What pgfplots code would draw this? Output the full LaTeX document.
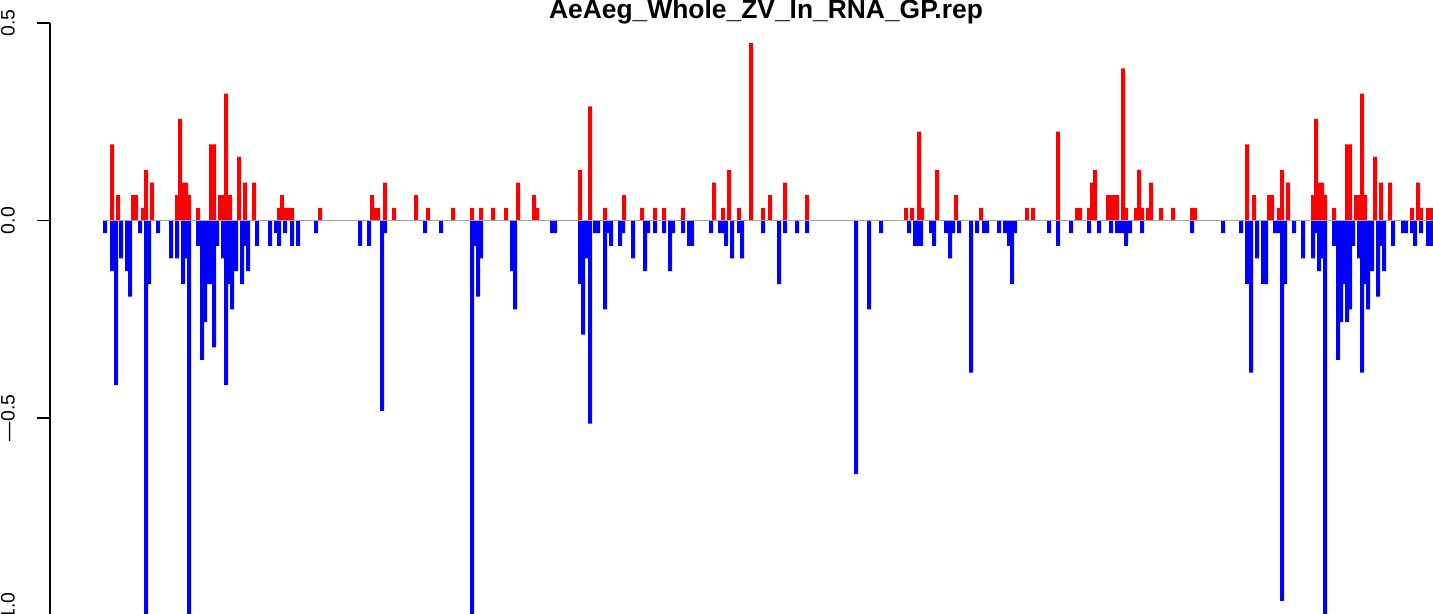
\documentclass[border=0pt]{standalone}
\usepackage{fontspec}
\setmainfont{Liberation Sans}
\usepackage{pgfplots}
\pgfplotsset{compat=1.18}
\definecolor{rred}{RGB}{255,0,0}
\definecolor{rblue}{RGB}{0,0,255}
\definecolor{rgray}{RGB}{165,165,165}
\begin{document}
\begin{tikzpicture}
\begin{axis}[at={(0,0)}, anchor=south west, scale only axis,
  width=1433bp, height=614bp, xmin=0, xmax=1433, ymin=-0.9962, ymax=0.5582,
  hide axis, clip=true]
% positive values (red)
\addplot[ybar, bar width=4, bar shift=0pt, fill=rred, draw=none] coordinates {
(112,0.193) (118,0.064) (133,0.064) (136,0.064) (143,0.032) (146,0.128) (152,0.096)
(177,0.064) (180,0.257) (183,0.096) (186,0.096) (189,0.064) (198,0.032)
(211,0.193) (214,0.193) (220,0.064) (223,0.064) (226,0.321) (230,0.064)
(239,0.161) (245,0.096) (254,0.096) (279,0.032) (282,0.064) (285,0.032)
(288,0.032) (292,0.032) (320,0.032)
(372,0.064) (375,0.032) (378,0.032) (385,0.096) (394,0.032) (416,0.064)
(428,0.032) (453,0.032) (472,0.032) (481,0.032) (493,0.032) (506,0.032)
(518,0.096) (534,0.064) (537,0.032)
(580,0.128) (590,0.289) (605,0.032) (624,0.064) (642,0.032) (655,0.032)
(664,0.032) (683,0.032) (714,0.096) (723,0.032) (729,0.128) (739,0.032)
(751,0.449) (763,0.032) (770,0.064) (785,0.096)
(807,0.064) (906,0.032) (912,0.032) (919,0.225) (922,0.032) (937,0.128)
(956,0.064) (981,0.032) (1027,0.032) (1033,0.032)
(1058,0.225) (1077,0.032) (1080,0.032) (1089,0.032) (1092,0.096) (1095,0.128)
(1108,0.064) (1111,0.064) (1114,0.064) (1117,0.064) (1123,0.385) (1126,0.032)
(1136,0.032) (1139,0.128) (1142,0.032) (1148,0.032) (1151,0.096) (1161,0.032)
(1173,0.032) (1192,0.032) (1195,0.032)
(1247,0.193) (1254,0.064) (1269,0.064) (1272,0.064) (1279,0.032) (1282,0.128)
(1288,0.096) (1313,0.064) (1316,0.257) (1319,0.096) (1322,0.096) (1325,0.064)
(1334,0.032) (1347,0.193) (1350,0.193) (1356,0.064) (1359,0.064) (1362,0.321)
(1365,0.064) (1375,0.161) (1381,0.096) (1390,0.096) (1412,0.032) (1418,0.096)
(1421,0.032) (1428,0.032) (1431,0.032)
};
% negative values (blue)
\addplot[ybar, bar width=4, bar shift=0pt, fill=rblue, draw=none] coordinates {
(105,-0.032) (112,-0.128) (116,-0.417) (121,-0.096) (127,-0.128) (130,-0.193)
(140,-0.032) (146,-1.05) (149,-0.161) (158,-0.032) (171,-0.096) (177,-0.096)
(183,-0.161) (186,-0.096) (189,-1.05) (198,-0.064) (202,-0.353) (205,-0.257)
(208,-0.161) (211,-0.161) (214,-0.321) (217,-0.064) (223,-0.096) (226,-0.417)
(229,-0.161) (232,-0.225) (236,-0.128) (242,-0.161) (245,-0.064) (248,-0.128)
(257,-0.064) (270,-0.064) (276,-0.032) (279,-0.064) (285,-0.032) (292,-0.064)
(298,-0.064) (316,-0.032)
(360,-0.064) (369,-0.064) (382,-0.482) (385,-0.032) (425,-0.032) (441,-0.032)
(472,-1.05) (475,-0.064) (478,-0.193) (481,-0.096) (512,-0.128) (515,-0.225)
(552,-0.032) (555,-0.032)
(580,-0.161) (583,-0.289) (586,-0.096) (590,-0.514) (595,-0.032) (598,-0.032)
(605,-0.225) (608,-0.032) (611,-0.064) (620,-0.064) (623,-0.032) (633,-0.096)
(645,-0.128) (648,-0.032) (655,-0.032) (664,-0.032) (670,-0.128) (673,-0.032)
(683,-0.032) (689,-0.064) (692,-0.064) (711,-0.032) (720,-0.032) (723,-0.032)
(726,-0.064) (732,-0.096) (739,-0.032) (742,-0.096) (763,-0.032) (779,-0.161)
(785,-0.032) (797,-0.032)
(807,-0.032) (856,-0.642) (869,-0.225) (881,-0.032) (909,-0.032) (915,-0.064)
(918,-0.064) (921,-0.064) (931,-0.032) (934,-0.064) (946,-0.032) (950,-0.096)
(953,-0.032) (959,-0.032) (971,-0.385) (977,-0.032) (984,-0.032) (987,-0.032)
(999,-0.032) (1005,-0.032) (1009,-0.064) (1012,-0.161) (1015,-0.032)
(1049,-0.032) (1058,-0.064) (1071,-0.032) (1089,-0.032) (1099,-0.032)
(1111,-0.032) (1117,-0.032) (1120,-0.032) (1123,-0.032) (1126,-0.064)
(1130,-0.032) (1142,-0.032) (1192,-0.032) (1223,-0.032)
(1241,-0.032) (1247,-0.161) (1251,-0.385) (1257,-0.096) (1263,-0.161)
(1266,-0.161) (1275,-0.032) (1278,-0.032) (1282,-0.963) (1285,-0.161)
(1294,-0.032) (1303,-0.096) (1313,-0.096) (1316,-0.032) (1319,-0.128)
(1322,-0.096) (1325,-1.05) (1334,-0.064) (1338,-0.353) (1341,-0.257)
(1344,-0.161) (1347,-0.257) (1350,-0.225) (1353,-0.064) (1359,-0.096)
(1362,-0.385) (1365,-0.161) (1368,-0.225) (1372,-0.128) (1378,-0.193)
(1381,-0.064) (1384,-0.128) (1393,-0.064) (1403,-0.032) (1406,-0.032)
(1412,-0.032) (1415,-0.064) (1421,-0.032) (1428,-0.064) (1431,-0.064)
};
\addplot[rgray, line width=1.3bp] coordinates {(103,0) (1433,0)};
\node[anchor=base, font=\fontsize{26.5}{30}\selectfont\bfseries] at (axis cs:766,0.512) {AeAeg\_Whole\_ZV\_In\_RNA\_GP.rep};
\end{axis}
\begin{axis}[at={(50bp,-1.5bp)}, anchor=south west, scale only axis,
  width=1bp, height=592.5bp, xmin=0, xmax=1, ymin=-1, ymax=0.5,
  hide x axis, axis y line*=left,
  ytick={-1,-0.5,0,0.5}, yticklabels={—1.0,—0.5,0.0,0.5},
  tick align=outside, major tick length=13bp,
  y axis line style={line width=1.2bp, -},
  ytick style={line width=1.2bp, black},
  y tick label style={rotate=90, anchor=south, inner sep=0pt, yshift=22bp,
    font=\fontsize{19.5}{22}\selectfont}]
\end{axis}
\pgfresetboundingbox
\useasboundingbox (0,0) rectangle (1433bp,614bp);
\end{tikzpicture}
\end{document}
